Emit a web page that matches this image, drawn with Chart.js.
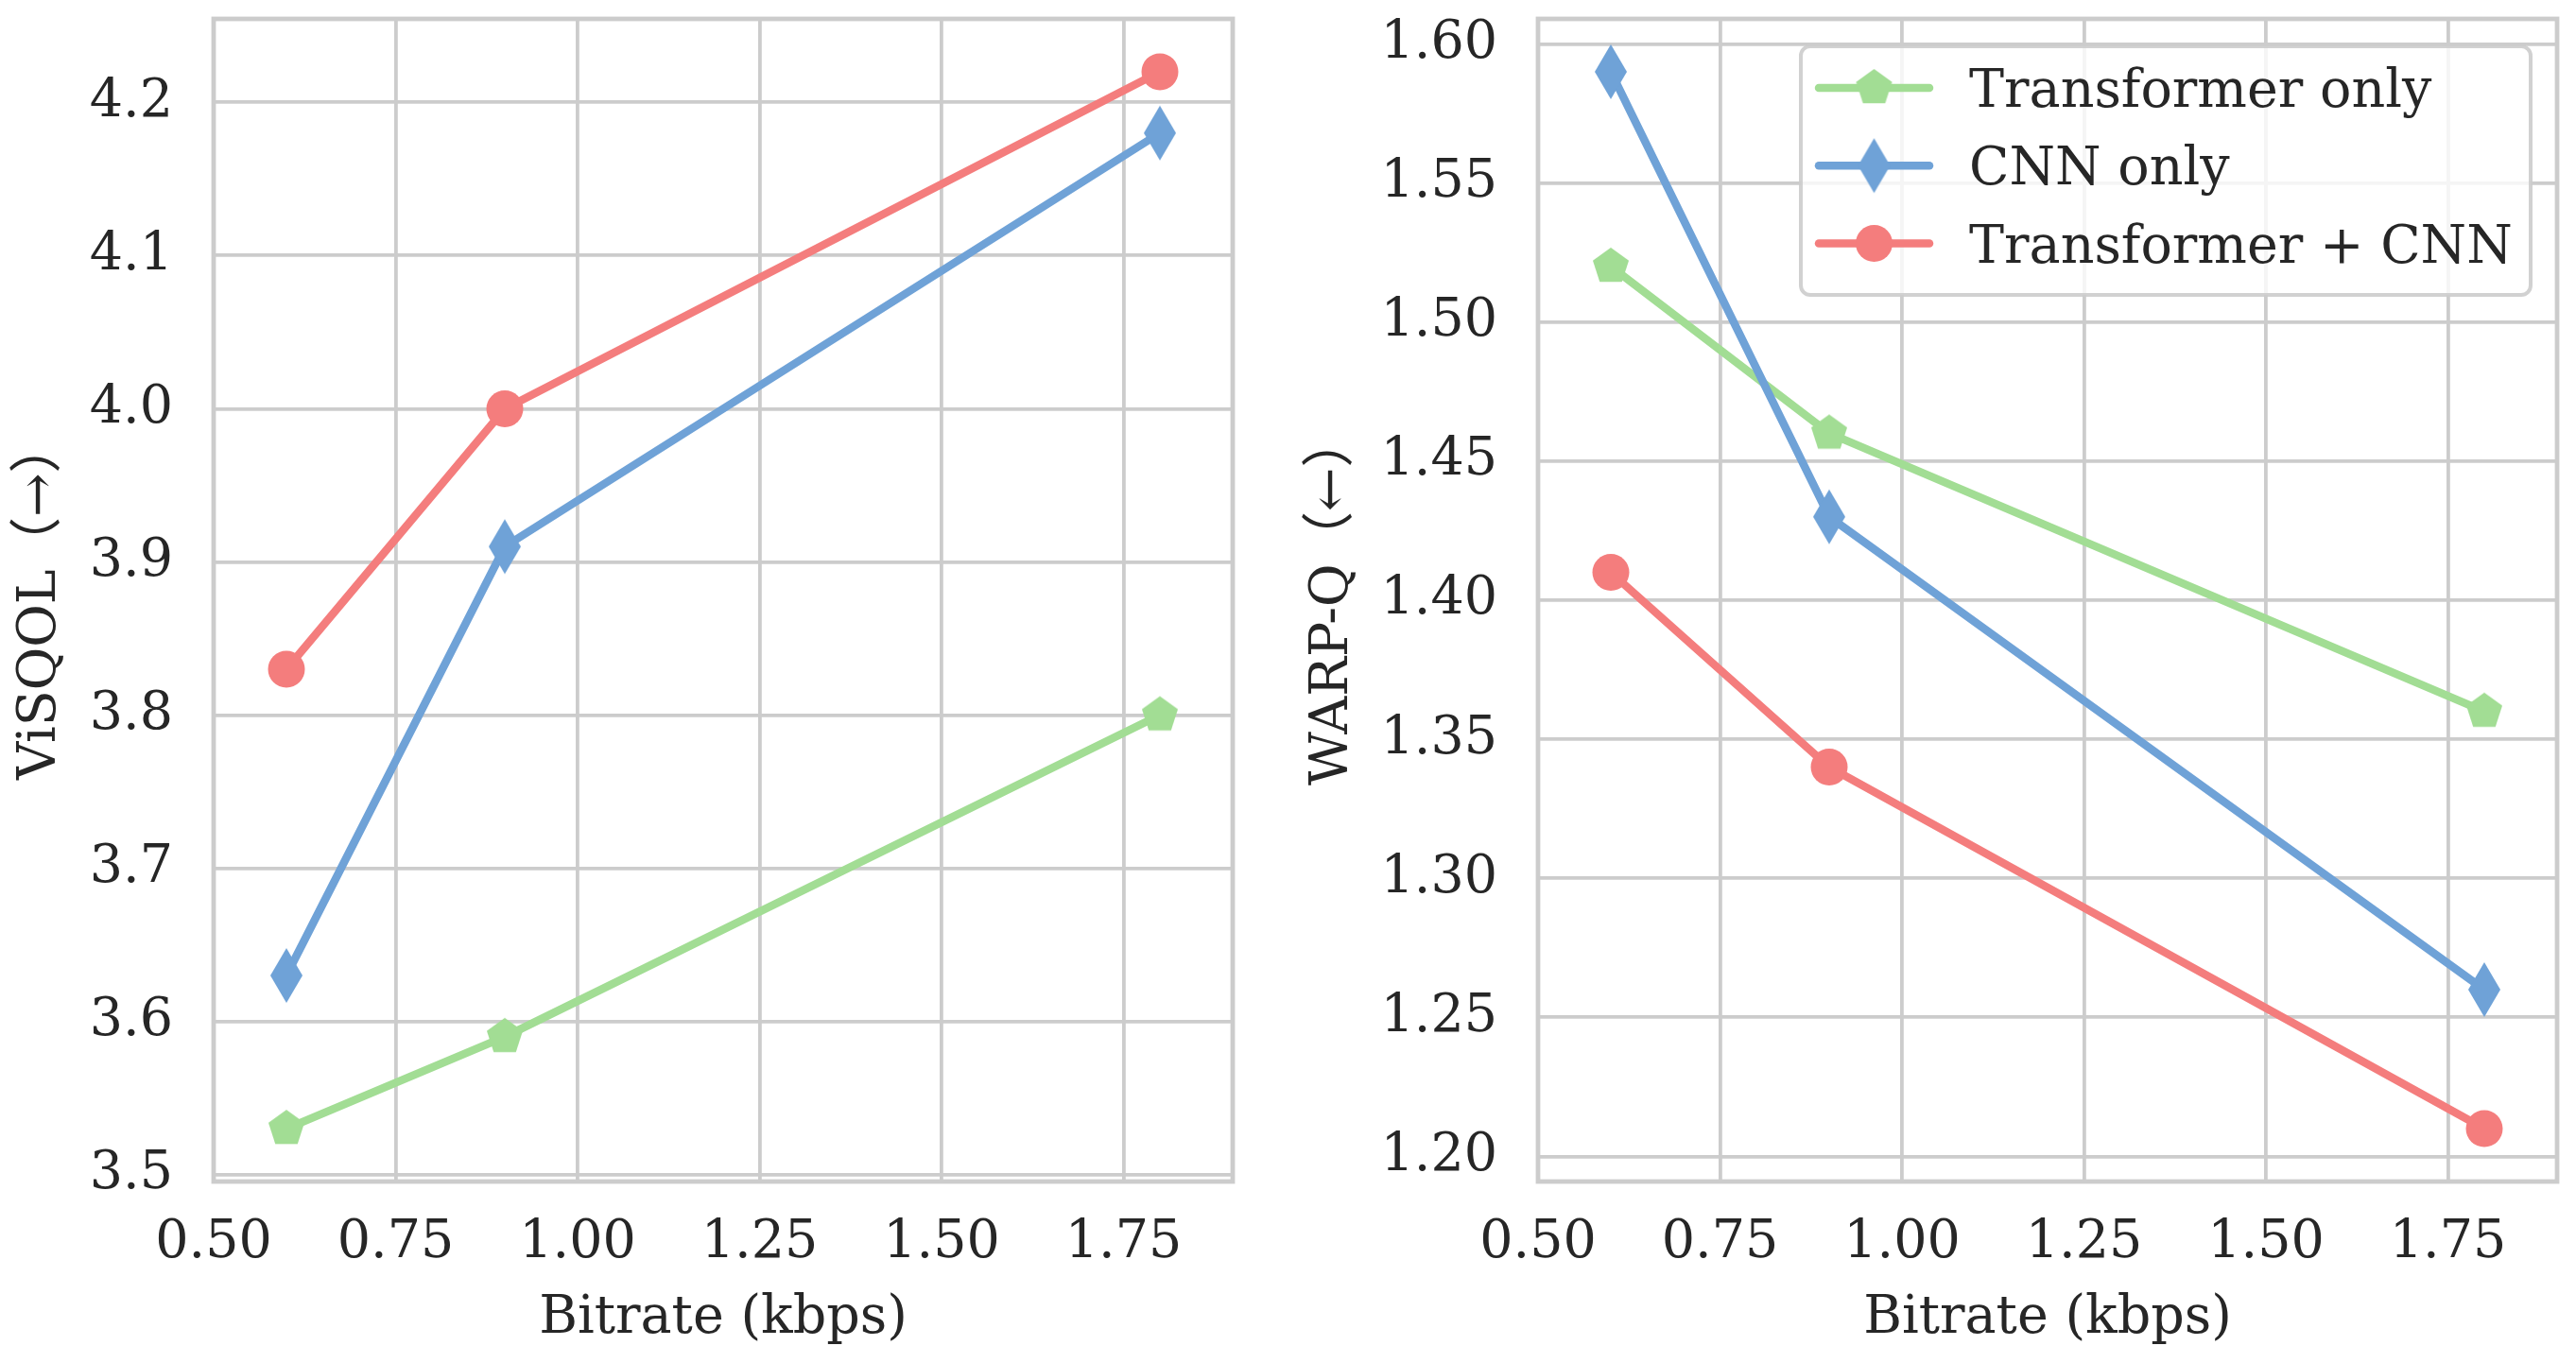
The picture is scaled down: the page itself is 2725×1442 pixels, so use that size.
<!DOCTYPE html>
<html>
<head>
<meta charset="utf-8">
<script src="https://cdn.jsdelivr.net/npm/chart.js@4.4.1/dist/chart.umd.min.js"></script>
<style>
  html, body { margin: 0; padding: 0; background: #fff; }
  #wrap { position: relative; width: 2725px; height: 1442px; }
  canvas { position: absolute; top: 0; }
</style>
</head>
<body>
<div id="wrap">
  <canvas id="visqolChart" width="1362" height="1442" style="left:0"></canvas>
  <canvas id="warpqChart" width="1363" height="1442" style="left:1362px"></canvas>
</div>
<script>
// data
const bitrates = [0.6, 0.9, 1.8];
const seriesNames = ['Transformer only', 'CNN only', 'Transformer + CNN'];
const visqolTransformer = [3.53, 3.59, 3.80];
const visqolCnn = [3.63, 3.91, 4.18];
const visqolBoth = [3.83, 4.00, 4.22];
const warpqTransformer = [1.52, 1.46, 1.36];
const warpqCnn = [1.59, 1.43, 1.26];
const warpqBoth = [1.41, 1.34, 1.21];
const xTicks = [0.5, 0.75, 1.0, 1.25, 1.5, 1.75];
const visqolTicks = [3.5, 3.6, 3.7, 3.8, 3.9, 4.0, 4.1, 4.2];
const warpqTicks = [1.20, 1.25, 1.30, 1.35, 1.40, 1.45, 1.50, 1.55, 1.60];

const GREEN = '#a2dd94';
const BLUE = '#6fa2d7';
const RED = '#f47d7d';
const GRID = '#cccccc';
const TEXT = '#262626';
const FONT = "'DejaVu Serif', 'Noto Sans CJK SC', serif";
const FONT_SIZE = 55.5;

Chart.defaults.font.family = FONT;
Chart.defaults.font.size = FONT_SIZE;
Chart.defaults.color = TEXT;

// marker images (matplotlib 'p' and 'd')
function pentagonMarker(r, color) {
  const c = document.createElement('canvas');
  const s = Math.ceil(2 * r + 2);
  c.width = s; c.height = s;
  const g = c.getContext('2d');
  g.fillStyle = color;
  g.beginPath();
  for (let i = 0; i < 5; i++) {
    const a = -Math.PI / 2 + i * 2 * Math.PI / 5;
    const px = s / 2 + r * Math.cos(a), py = s / 2 + r * Math.sin(a);
    if (i) g.lineTo(px, py); else g.moveTo(px, py);
  }
  g.closePath();
  g.fill();
  return c;
}

function thinDiamondMarker(hw, hh, color) {
  const c = document.createElement('canvas');
  c.width = Math.ceil(2 * hw + 2); c.height = Math.ceil(2 * hh + 2);
  const g = c.getContext('2d');
  const cx = c.width / 2, cy = c.height / 2;
  g.fillStyle = color;
  g.beginPath();
  g.moveTo(cx, cy - hh);
  g.lineTo(cx + hw, cy);
  g.lineTo(cx, cy + hh);
  g.lineTo(cx - hw, cy);
  g.closePath();
  g.fill();
  return c;
}

const pentagon = pentagonMarker(20, GREEN);
const diamond = thinDiamondMarker(17, 29, BLUE);

function points(ys) {
  return bitrates.map((x, i) => ({x, y: ys[i]}));
}

function makeDatasets(tr, cnn, both) {
  const base = {borderWidth: 8.5, borderJoinStyle: 'round', borderCapStyle: 'round', pointBorderWidth: 0, tension: 0};
  return [
    Object.assign({}, base, {label: seriesNames[0], data: points(tr), borderColor: GREEN, backgroundColor: GREEN,
      pointStyle: pentagon, pointRadius: 20, order: 3}),
    Object.assign({}, base, {label: seriesNames[1], data: points(cnn), borderColor: BLUE, backgroundColor: BLUE,
      pointStyle: diamond, pointRadius: 20, order: 2}),
    Object.assign({}, base, {label: seriesNames[2], data: points(both), borderColor: RED, backgroundColor: RED,
      pointStyle: 'circle', pointRadius: 19.5, order: 1})
  ];
}

// axes frame like matplotlib spines
const spinesPlugin = {
  id: 'spines',
  afterDatasetsDraw(chart) {
    const {ctx, chartArea: a} = chart;
    ctx.save();
    ctx.strokeStyle = GRID;
    ctx.lineWidth = 4.8;
    ctx.strokeRect(a.left, a.top, a.right - a.left, a.bottom - a.top);
    ctx.restore();
  }
};

// legend box with line + marker handles, drawn inside the plot
const boxLegendPlugin = {
  id: 'boxLegend',
  afterDraw(chart, args, opts) {
    if (!opts.display) return;
    const {ctx} = chart;
    ctx.save();
    ctx.beginPath();
    ctx.roundRect(opts.x, opts.y, opts.w, opts.h, 10);
    ctx.fillStyle = 'rgba(255,255,255,0.8)';
    ctx.fill();
    ctx.strokeStyle = 'rgba(204,204,204,0.9)';
    ctx.lineWidth = 4;
    ctx.stroke();
    chart.data.datasets.forEach((ds, i) => {
      const y = opts.rowY + i * opts.rowGap;
      ctx.strokeStyle = ds.borderColor;
      ctx.lineWidth = ds.borderWidth;
      ctx.lineCap = 'round';
      ctx.beginPath();
      ctx.moveTo(opts.lineX0, y);
      ctx.lineTo(opts.lineX1, y);
      ctx.stroke();
      const mx = (opts.lineX0 + opts.lineX1) / 2;
      if (typeof ds.pointStyle === 'object') {
        const im = ds.pointStyle;
        ctx.drawImage(im, mx - im.width / 2, y - im.height / 2);
      } else {
        ctx.fillStyle = ds.backgroundColor;
        ctx.beginPath();
        ctx.arc(mx, y, ds.pointRadius, 0, Math.PI * 2);
        ctx.fill();
      }
      ctx.fillStyle = TEXT;
      ctx.font = FONT_SIZE + 'px ' + FONT;
      ctx.textBaseline = 'alphabetic';
      ctx.textAlign = 'left';
      ctx.fillText(ds.label, opts.textX, y + 20);
    });
    ctx.restore();
  }
};

function makeChart(id, datasets, cfg) {
  return new Chart(document.getElementById(id), {
    type: 'line',
    data: {datasets},
    options: {
      responsive: false,
      devicePixelRatio: 1,
      animation: false,
      layout: {padding: {top: 18, right: cfg.padRight, bottom: 0, left: 0}},
      plugins: {
        legend: {display: false},
        tooltip: {enabled: false},
        boxLegend: cfg.legend || {display: false}
      },
      scales: {
        x: {
          type: 'linear',
          min: 0.5,
          max: 1.9,
          afterBuildTicks: s => { s.ticks = xTicks.map(v => ({value: v})); },
          afterFit: s => { s.height = 192; s.paddingLeft = 0; s.paddingRight = 0; },
          grid: {color: GRID, lineWidth: 3.8, drawTicks: false},
          border: {display: false},
          ticks: {padding: 32, color: TEXT, callback: v => v.toFixed(2)},
          title: {display: true, text: 'Bitrate (kbps)', color: TEXT, padding: {top: 0, bottom: 13}}
        },
        y: {
          type: 'linear',
          min: cfg.yMin,
          max: cfg.yMax,
          afterBuildTicks: s => { s.ticks = cfg.yTicks.map(v => ({value: v})); },
          afterFit: s => { s.width = cfg.yWidth; s.paddingTop = 0; s.paddingBottom = 0; },
          grid: {color: GRID, lineWidth: 3.8, drawTicks: false},
          border: {display: false},
          ticks: {padding: 43, color: TEXT, callback: v => v.toFixed(cfg.yDigits)},
          title: {display: true, text: cfg.yTitle, color: TEXT, padding: {top: cfg.titlePad, bottom: 0}}
        }
      }
    },
    plugins: [spinesPlugin, boxLegendPlugin]
  });
}

makeChart('visqolChart', makeDatasets(visqolTransformer, visqolCnn, visqolBoth), {
  padRight: 58, yMin: 3.4955, yMax: 4.2545, yTicks: visqolTicks, yDigits: 1,
  yWidth: 226, yTitle: 'ViSQOL（→）', titlePad: 10, 
});

makeChart('warpqChart', makeDatasets(warpqTransformer, warpqCnn, warpqBoth), {
  padRight: 19, yMin: 1.191, yMax: 1.609, yTicks: warpqTicks, yDigits: 2,
  yWidth: 265, yTitle: 'WARP-Q（←）', titlePad: 15,
  legend: {display: true, x: 543, y: 49, w: 772, h: 263,
    rowY: 93, rowGap: 82.25, lineX0: 562, lineX1: 679, textX: 721}
});
</script>
</body>
</html>
